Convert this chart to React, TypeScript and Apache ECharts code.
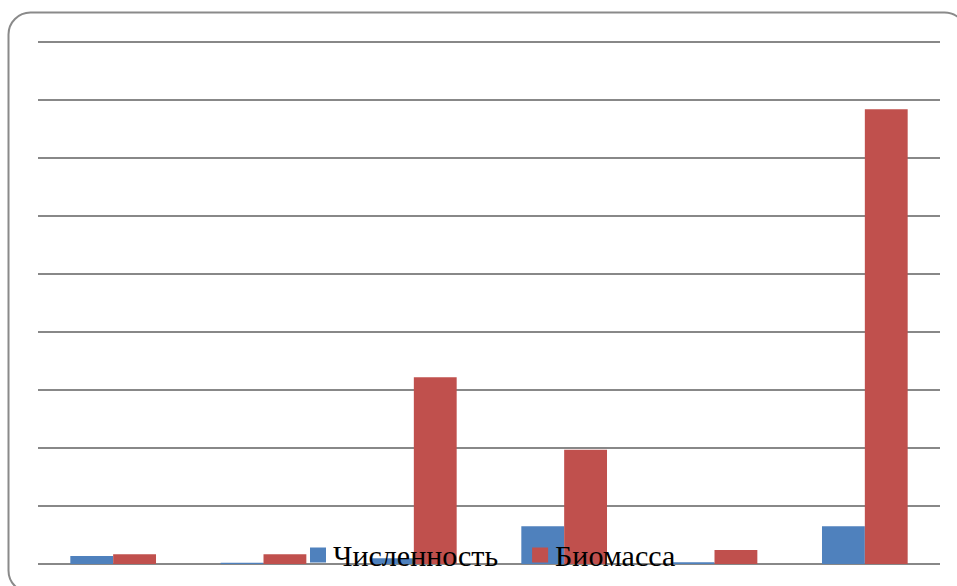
import React, { useEffect, useRef } from "react";
import * as echarts from "echarts";

const categories = ["1", "2", "3", "4", "5", "6"];
const abundance = [0.14, 0.02, 0.1, 0.65, 0.03, 0.65];
const biomass = [0.17, 0.17, 3.22, 1.97, 0.24, 7.84];
const seriesNames = ["Численность", "Биомасса"];

export default function App() {
  const ref = useRef<HTMLDivElement>(null);

  useEffect(() => {
    if (!ref.current) return;
    const chart = echarts.init(ref.current, null, { renderer: "svg" });
    chart.setOption({
      animation: false,
      backgroundColor: "#ffffff",
      graphic: [
        {
          type: "rect",
          shape: { x: 8.5, y: 12.5, width: 958, height: 580, r: 22 },
          style: { fill: "none", stroke: "#8a8a8a", lineWidth: 2 },
          z: 0,
        },
      ],
      grid: { left: 38, right: 17, top: 42, bottom: 22, containLabel: false },
      legend: {
        data: seriesNames,
        left: 305,
        top: 535,
        itemWidth: 16,
        itemHeight: 15,
        itemGap: 34,
        icon: "rect",
        textStyle: {
          fontFamily: "Liberation Serif",
          fontSize: 30,
          color: "#000000",
          padding: [0, 0, 0, 2],
        },
      },
      xAxis: {
        type: "category",
        data: categories,
        axisLine: { show: false },
        axisTick: { show: false },
        axisLabel: { show: false },
      },
      yAxis: {
        type: "value",
        min: 0,
        max: 9,
        interval: 1,
        axisLine: { show: false },
        axisTick: { show: false },
        axisLabel: { show: false },
        splitLine: { lineStyle: { color: "#888888", width: 2 } },
      },
      series: [
        {
          name: seriesNames[0],
          type: "bar",
          data: abundance,
          barGap: "0%",
          barCategoryGap: "43%",
          itemStyle: { color: "#4f81bd" },
        },
        {
          name: seriesNames[1],
          type: "bar",
          data: biomass,
          barGap: "0%",
          barCategoryGap: "43%",
          itemStyle: { color: "#c0504d" },
        },
      ],
    });
    return () => chart.dispose();
  }, []);

  return (
    <div
      ref={ref}
      style={{ position: "fixed", left: 0, top: 0, width: 957, height: 586 }}
    />
  );
}
